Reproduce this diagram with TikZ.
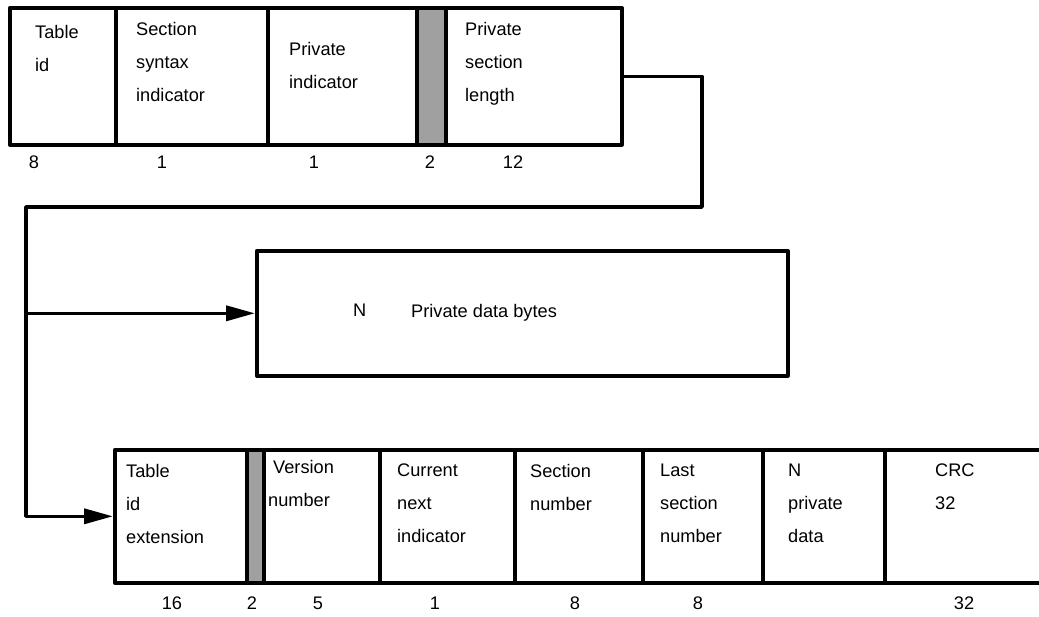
\documentclass[tikz,border=0pt]{standalone}
\usepackage{fontspec}
\setmainfont{Liberation Sans}
\usetikzlibrary{arrows.meta}
\definecolor{resgray}{HTML}{A0A0A0}
\begin{document}
\begin{tikzpicture}[x=1pt,y=-1pt,
  field/.style={draw, line width=3.6pt, anchor=north west, inner sep=0pt, line join=round},
  toprow/.style={field, minimum height=137},
  botrow/.style={field, minimum height=133},
  reserved/.style={fill=resgray},
  txt/.style={anchor=north west, inner sep=0pt, align=left, font=\fontsize{18.2}{33}\selectfont},
  num/.style={inner sep=0pt, font=\fontsize{18.2}{20}\selectfont},
  conn/.style={line width=3.6pt, line join=round},
  arr/.style={conn, -{Triangle[length=29pt,width=15pt]}}]
\useasboundingbox (0,0) rectangle (1039,616);

% section header fields
\node[toprow, minimum width=106] (tid)  at (8,6)   {};
\node[toprow, minimum width=152] (ssi)  at (114,6) {};
\node[toprow, minimum width=149] (pind) at (266,6) {};
\node[toprow, reserved, minimum width=29] (res1) at (415,6) {};
\node[toprow, minimum width=176] (psl)  at (444,6) {};

\node[txt] (tidT)  at (35,25)  {Table\\id};
\node[txt] (ssiT)  at (136,22) {Section\\syntax\\indicator};
\node[txt] (pindT) at (289,42) {Private\\indicator};
\node[txt] (pslT)  at (465,22) {Private\\section\\length};

\node[num] (n1) at (34,162)  {8};
\node[num] (n2) at (162,162) {1};
\node[num] (n3) at (314,162) {1};
\node[num] (n4) at (430,162) {2};
\node[num] (n5) at (513,162) {12};

% private data bytes
\node[field, minimum width=531, minimum height=125] (mid) at (255,249) {};
\node[txt] (midN) at (353,304) {N};
\node[txt] (midT) at (411,304) {Private data bytes};

% long-form section fields
\node[botrow, minimum width=132] (tide) at (113,448) {};
\node[botrow, reserved, minimum width=17] (res2) at (245,448) {};
\node[botrow, minimum width=116] (ver)  at (262,448) {};
\node[botrow, minimum width=135] (cni)  at (378,448) {};
\node[botrow, minimum width=128] (secn) at (513,448) {};
\node[botrow, minimum width=120] (lsn)  at (641,448) {};
\node[botrow, minimum width=122] (npd)  at (761,448) {};
\node[botrow, minimum width=170] (crc)  at (883,448) {};

\node[txt] (tideT) at (126,464) {Table\\id\\extension};
\node[txt] (verT)  at (268,460) {\hspace*{5pt}Version\\number};
\node[txt] (cniT)  at (397,464) {Current\\next\\indicator};
\node[txt] (secnT) at (530,464) {Section\\number};
\node[txt] (lsnT)  at (660,464) {Last\\section\\number};
\node[txt] (npdT)  at (788,464) {N\\private\\data};
\node[txt] (crcT)  at (935,464) {CRC\\32};

\node[num] (m1) at (172,603) {16};
\node[num] (m2) at (252,603) {2};
\node[num] (m3) at (318,603) {5};
\node[num] (m4) at (435,603) {1};
\node[num] (m5) at (575,603) {8};
\node[num] (m6) at (698,603) {8};
\node[num] (m7) at (964,603) {32};

% flow connectors
\coordinate (rturn) at (702,207);
\coordinate (lturn) at (26,207);
\coordinate (branch) at (lturn |- mid.west);
\draw[conn] (psl.east) -| (rturn) -- (lturn) -- (branch);
\draw[arr] (branch) |- (tide.west);
\draw[arr] (branch) -- (mid.west);
\end{tikzpicture}
\end{document}
